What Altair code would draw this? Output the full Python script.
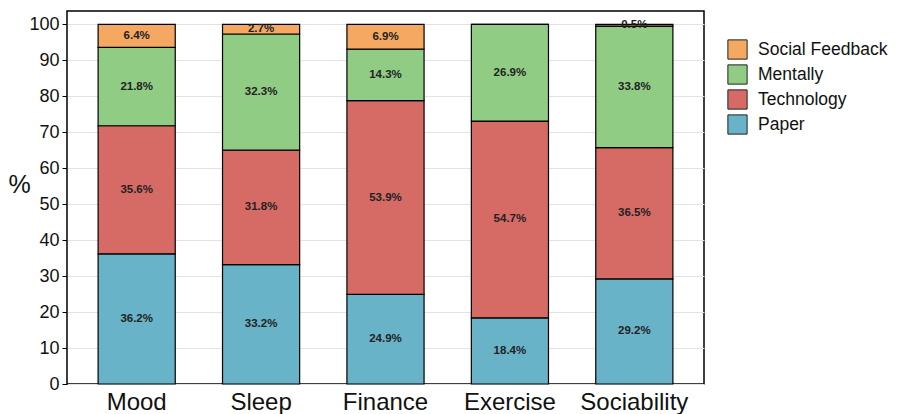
import altair as alt
import pandas as pd

categories = ["Mood", "Sleep", "Finance", "Exercise", "Sociability"]
series = ["Social Feedback", "Mentally", "Technology", "Paper"]
paper = [36.2, 33.2, 24.9, 18.4, 29.2]
technology = [35.6, 31.8, 53.9, 54.7, 36.5]
mentally = [21.8, 32.3, 14.3, 26.9, 33.8]
social_feedback = [6.4, 2.7, 6.9, 0.0, 0.5]
colors = ["#F4A862", "#90CC84", "#D66B66", "#69B3C8"]
y_ticks = list(range(0, 101, 10))

values = {"Paper": paper, "Technology": technology, "Mentally": mentally, "Social Feedback": social_feedback}
stack_order = {"Paper": 0, "Technology": 1, "Mentally": 2, "Social Feedback": 3}
rows = []
for s in ["Paper", "Technology", "Mentally", "Social Feedback"]:
    for c, v in zip(categories, values[s]):
        rows.append({"category": c, "series": s, "value": v, "order": stack_order[s]})
df = pd.DataFrame(rows)

FONT = "Liberation Sans, Arial, sans-serif"

base = alt.Chart(df).transform_stack(
    stack="value", groupby=["category"], as_=["y0", "y1"],
    sort=[alt.SortField("order", order="ascending")]
)

xscale = alt.Scale(paddingInner=0.38, paddingOuter=0.25)
yscale = alt.Scale(domain=[0, 103.7], nice=False)

xaxis = alt.Axis(labelAngle=0, labelFontSize=24, labelColor="#111", labelFont=FONT,
                 ticks=False, domain=False, labelPadding=6, grid=False)
yaxis = alt.Axis(values=y_ticks, labelFontSize=18, labelFont=FONT, labelColor="#111",
                 tickColor="black", tickSize=5, domain=False, labelOverlap=False,
                 grid=True, gridColor="#e3e3e3", titleAngle=0, titleFontSize=25,
                 titleFont=FONT, titleFontWeight="normal", titleColor="#111",
                 titleX=-48, titleY=186, labelPadding=3)

bars = base.mark_bar(stroke="black", strokeWidth=1.2).encode(
    x=alt.X("category:N", sort=categories, title=None, scale=xscale, axis=xaxis),
    y=alt.Y("y0:Q", title="%", scale=yscale, axis=yaxis),
    y2="y1:Q",
    color=alt.Color("series:N", scale=alt.Scale(domain=series, range=colors),
                    legend=alt.Legend(title=None, orient="none", legendX=660, legendY=28,
                                      symbolType="square", symbolSize=370,
                                      symbolStrokeColor="#222", symbolStrokeWidth=1,
                                      labelFontSize=17.5, labelFont=FONT, labelColor="#111",
                                      labelOffset=10, labelLimit=400, rowPadding=0,
                                      symbolOpacity=1)),
)

labels = base.transform_filter("datum.value > 0").transform_calculate(
    mid="(datum.y0 + datum.y1) / 2",
    lab="format(datum.value, '.1f') + '%'"
).mark_text(fontSize=11.5, fontWeight="bold", font=FONT, color="#222", baseline="middle").encode(
    x=alt.X("category:N", sort=categories, title=None, scale=xscale, axis=xaxis),
    y=alt.Y("mid:Q", title="%", scale=yscale, axis=yaxis),
    text="lab:N",
)

chart = (bars + labels).properties(
    width=637, height=373,
    autosize=alt.AutoSizeParams(type="none"),
    padding={"left": 59, "top": 3, "right": 185, "bottom": 30},
).configure_view(stroke="black", strokeWidth=1.5)

chart.save("out.html", embed_options={"renderer": "svg", "actions": False})
